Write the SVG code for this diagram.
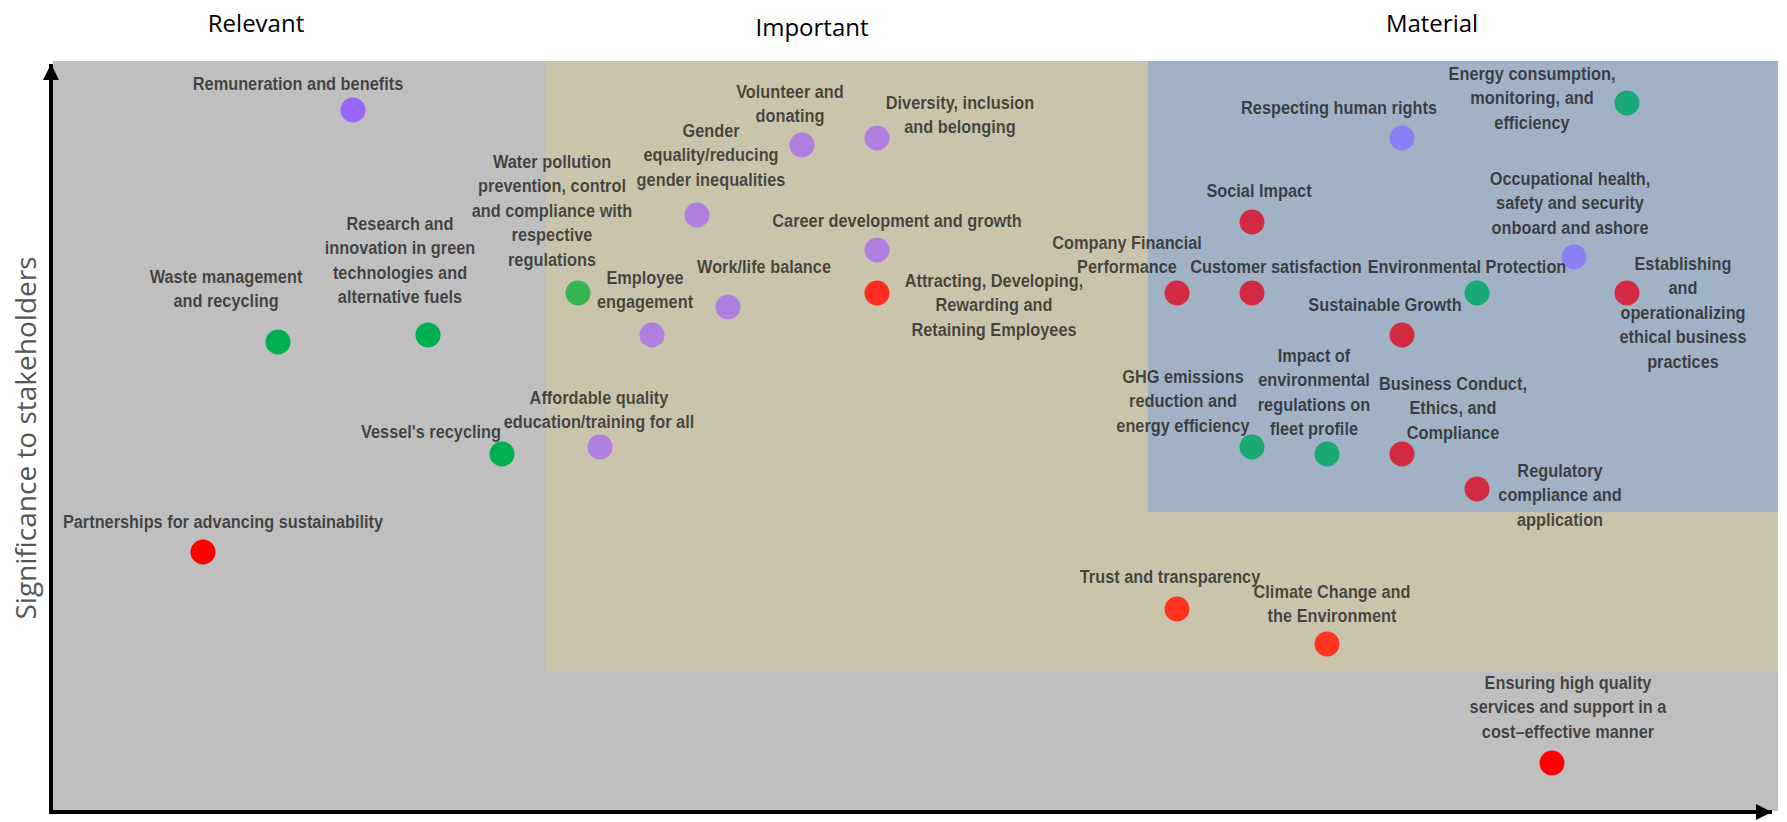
<svg xmlns="http://www.w3.org/2000/svg" width="1787" height="822" viewBox="0 0 1787 822">
<style>
.title{font-family:"Open Sans","Liberation Sans",sans-serif;font-size:24px;fill:#000;text-anchor:middle}
.lbl{font-family:"Liberation Sans",Arial,sans-serif;font-weight:bold;font-size:19px;fill:#000;fill-opacity:0.66;text-anchor:middle}
.axis{stroke:#000;stroke-width:4;fill:none}
.ylab{font-family:"Open Sans","Liberation Sans",sans-serif;font-size:28px;fill:#555;text-anchor:middle}
.g1{fill:#00B050}.g2{fill:#36B452}.g3{fill:#1AA876}
.p1{fill:#9966FF}.p2{fill:#AF7FE0}.p3{fill:#8A7FF5}
.r1{fill:#FF0000}.r2{fill:#FF2B1C}.r3{fill:#D42B45}.r4{fill:#FF3520}
</style>
<defs>
<marker id="arr" viewBox="0 0 10 10" refX="10" refY="5" markerWidth="4" markerHeight="4" markerUnits="strokeWidth" orient="auto">
<path d="M0,0 L10,5 L0,10 Z" fill="#000"/>
</marker>
</defs>
<rect width="1787" height="822" fill="#fff"/>
<g id="zones">
<rect id="zone-relevant" x="53" y="61" width="1725" height="750" fill="#BFBFBF"/>
<rect id="zone-important" x="546" y="61" width="1232" height="611" fill="#CBC4AC"/>
<rect id="zone-material" x="1148" y="61" width="630" height="451" fill="#A0B2C3"/>
</g>
<g id="titles">
<text class="title" x="256" y="32">Relevant</text>
<text class="title" x="812" y="36">Important</text>
<text class="title" x="1432" y="32">Material</text>
<text class="ylab" transform="translate(36,438) rotate(-90)">Significance to stakeholders</text>
</g>
<g id="connectors">
<path class="axis" d="M51,812 L51,64" marker-end="url(#arr)"/>
<path class="axis" d="M49,812 L1772,812" marker-end="url(#arr)"/>
</g>
<g id="n-remuneration"><circle class="p1" cx="353" cy="110" r="12.5"/><text class="lbl" transform="translate(298,90) scale(0.86,1)">Remuneration and benefits</text></g>
<g id="n-waste"><circle class="g1" cx="278" cy="342" r="12.5"/><text class="lbl" transform="translate(226,283) scale(0.86,1)"><tspan x="0">Waste management</tspan><tspan x="0" dy="24.5">and recycling</tspan></text></g>
<g id="n-research"><circle class="g1" cx="428" cy="335" r="12.5"/><text class="lbl" transform="translate(400,230) scale(0.86,1)"><tspan x="0">Research and</tspan><tspan x="0" dy="24.5">innovation in green</tspan><tspan x="0" dy="24.5">technologies and</tspan><tspan x="0" dy="24.5">alternative fuels</tspan></text></g>
<g id="n-water"><circle class="g2" cx="578" cy="293" r="12.5"/><text class="lbl" transform="translate(552,168) scale(0.86,1)"><tspan x="0">Water pollution</tspan><tspan x="0" dy="24.5">prevention, control</tspan><tspan x="0" dy="24.5">and compliance with</tspan><tspan x="0" dy="24.5">respective</tspan><tspan x="0" dy="24.5">regulations</tspan></text></g>
<g id="n-gender"><circle class="p2" cx="697" cy="215" r="12.5"/><text class="lbl" transform="translate(711,137) scale(0.86,1)"><tspan x="0">Gender</tspan><tspan x="0" dy="24.5">equality/reducing</tspan><tspan x="0" dy="24.5">gender inequalities</tspan></text></g>
<g id="n-volunteer"><circle class="p2" cx="802" cy="145" r="12.5"/><text class="lbl" transform="translate(790,98) scale(0.86,1)"><tspan x="0">Volunteer and</tspan><tspan x="0" dy="24.5">donating</tspan></text></g>
<g id="n-diversity"><circle class="p2" cx="877" cy="138" r="12.5"/><text class="lbl" transform="translate(960,109) scale(0.86,1)"><tspan x="0">Diversity, inclusion</tspan><tspan x="0" dy="24.5">and belonging</tspan></text></g>
<g id="n-career"><circle class="p2" cx="877" cy="250" r="12.5"/><text class="lbl" transform="translate(897,227) scale(0.86,1)">Career development and growth</text></g>
<g id="n-employee"><circle class="p2" cx="652" cy="335" r="12.5"/><text class="lbl" transform="translate(645,284) scale(0.86,1)"><tspan x="0">Employee</tspan><tspan x="0" dy="24.5">engagement</tspan></text></g>
<g id="n-worklife"><circle class="p2" cx="728" cy="307" r="12.5"/><text class="lbl" transform="translate(764,273) scale(0.86,1)">Work/life balance</text></g>
<g id="n-attracting"><circle class="r2" cx="877" cy="293" r="12.5"/><text class="lbl" transform="translate(994,287) scale(0.86,1)"><tspan x="0">Attracting, Developing,</tspan><tspan x="0" dy="24.5">Rewarding and</tspan><tspan x="0" dy="24.5">Retaining Employees</tspan></text></g>
<g id="n-affordable"><circle class="p2" cx="600" cy="447" r="12.5"/><text class="lbl" transform="translate(599,404) scale(0.86,1)"><tspan x="0">Affordable quality</tspan><tspan x="0" dy="24.5">education/training for all</tspan></text></g>
<g id="n-vessel"><circle class="g1" cx="502" cy="454" r="12.5"/><text class="lbl" transform="translate(431,438) scale(0.86,1)">Vessel's recycling</text></g>
<g id="n-partnerships"><circle class="r1" cx="203" cy="552" r="12.5"/><text class="lbl" transform="translate(223,528) scale(0.86,1)">Partnerships for advancing sustainability</text></g>
<g id="n-human-rights"><circle class="p3" cx="1402" cy="138" r="12.5"/><text class="lbl" transform="translate(1339,114) scale(0.86,1)">Respecting human rights</text></g>
<g id="n-energy"><circle class="g3" cx="1627" cy="103" r="12.5"/><text class="lbl" transform="translate(1532,80) scale(0.86,1)"><tspan x="0">Energy consumption,</tspan><tspan x="0" dy="24.5">monitoring, and</tspan><tspan x="0" dy="24.5">efficiency</tspan></text></g>
<g id="n-social"><circle class="r3" cx="1252" cy="222" r="12.5"/><text class="lbl" transform="translate(1259,197) scale(0.86,1)">Social Impact</text></g>
<g id="n-occupational"><circle class="p3" cx="1574" cy="257" r="12.5"/><text class="lbl" transform="translate(1570,185) scale(0.86,1)"><tspan x="0">Occupational health,</tspan><tspan x="0" dy="24.5">safety and security</tspan><tspan x="0" dy="24.5">onboard and ashore</tspan></text></g>
<g id="n-company-financial"><circle class="r3" cx="1177" cy="293" r="12.5"/><text class="lbl" transform="translate(1127,249) scale(0.86,1)"><tspan x="0">Company Financial</tspan><tspan x="0" dy="24.5">Performance</tspan></text></g>
<g id="n-customer"><circle class="r3" cx="1252" cy="293" r="12.5"/><text class="lbl" transform="translate(1276,273) scale(0.86,1)">Customer satisfaction</text></g>
<g id="n-env-protection"><circle class="g3" cx="1477" cy="293" r="12.5"/><text class="lbl" transform="translate(1467,273) scale(0.86,1)">Environmental Protection</text></g>
<g id="n-ethical"><circle class="r3" cx="1627" cy="293" r="12.5"/><text class="lbl" transform="translate(1683,270) scale(0.86,1)"><tspan x="0">Establishing</tspan><tspan x="0" dy="24.5">and</tspan><tspan x="0" dy="24.5">operationalizing</tspan><tspan x="0" dy="24.5">ethical business</tspan><tspan x="0" dy="24.5">practices</tspan></text></g>
<g id="n-sustainable-growth"><circle class="r3" cx="1402" cy="335" r="12.5"/><text class="lbl" transform="translate(1385,311) scale(0.86,1)">Sustainable Growth</text></g>
<g id="n-ghg"><circle class="g3" cx="1252" cy="447" r="12.5"/><text class="lbl" transform="translate(1183,383) scale(0.86,1)"><tspan x="0">GHG emissions</tspan><tspan x="0" dy="24.5">reduction and</tspan><tspan x="0" dy="24.5">energy efficiency</tspan></text></g>
<g id="n-impact-env-reg"><circle class="g3" cx="1327" cy="454" r="12.5"/><text class="lbl" transform="translate(1314,362) scale(0.86,1)"><tspan x="0">Impact of</tspan><tspan x="0" dy="24.5">environmental</tspan><tspan x="0" dy="24.5">regulations on</tspan><tspan x="0" dy="24.5">fleet profile</tspan></text></g>
<g id="n-business-conduct"><circle class="r3" cx="1402" cy="454" r="12.5"/><text class="lbl" transform="translate(1453,390) scale(0.86,1)"><tspan x="0">Business Conduct,</tspan><tspan x="0" dy="24.5">Ethics, and</tspan><tspan x="0" dy="24.5">Compliance</tspan></text></g>
<g id="n-regulatory"><circle class="r3" cx="1477" cy="489" r="12.5"/><text class="lbl" transform="translate(1560,477) scale(0.86,1)"><tspan x="0">Regulatory</tspan><tspan x="0" dy="24.5">compliance and</tspan><tspan x="0" dy="24.5">application</tspan></text></g>
<g id="n-trust"><circle class="r4" cx="1177" cy="609" r="12.5"/><text class="lbl" transform="translate(1170,583) scale(0.86,1)">Trust and transparency</text></g>
<g id="n-climate"><circle class="r4" cx="1327" cy="644" r="12.5"/><text class="lbl" transform="translate(1332,598) scale(0.86,1)"><tspan x="0">Climate Change and</tspan><tspan x="0" dy="24.5">the Environment</tspan></text></g>
<g id="n-ensuring"><circle class="r1" cx="1552" cy="763" r="12.5"/><text class="lbl" transform="translate(1568,689) scale(0.86,1)"><tspan x="0">Ensuring high quality</tspan><tspan x="0" dy="24.5">services and support in a</tspan><tspan x="0" dy="24.5">cost–effective manner</tspan></text></g>
</svg>
